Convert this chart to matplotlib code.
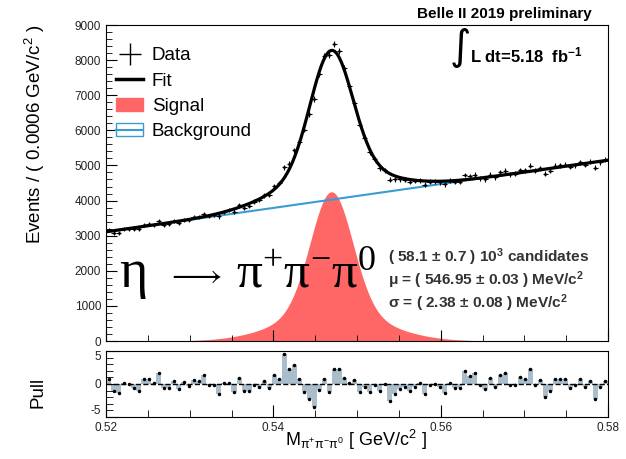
import numpy as np
import matplotlib
matplotlib.use("Agg")
import matplotlib.pyplot as plt
from matplotlib.patches import Patch
from matplotlib.lines import Line2D

plt.rcParams['font.family'] = ['Liberation Sans', 'DejaVu Sans']
plt.rcParams['mathtext.default'] = 'regular'
plt.rcParams['axes.unicode_minus'] = False

#  Fit-Parameter
x_lo, x_hi = 0.52, 0.58
bin_w = 0.0006
mu = 0.54695
sig_core = 0.0025
sig_wide = 0.0060
sig_peak = 4250
frac_wide = 0.2
bg_lo, bg_hi = 3110, 5150

#  Ereignisse pro Bin (100 Bins a 0.6 MeV)
data = [
    3159, 3085, 3082, 3187, 3202, 3188, 3180, 3304, 3325, 3311,
    3419, 3313, 3335, 3415, 3367, 3455, 3444, 3522, 3537, 3619,
    3565, 3597, 3547, 3681, 3728, 3686, 3862, 3796, 3851, 3968,
    4016, 4149, 4167, 4401, 4504, 4951, 5047, 5427, 5678, 6017,
    6466, 6891, 7597, 8111, 8141, 8463, 8268, 7786, 7263, 6791,
    6158, 5790, 5379, 5182, 4922, 4863, 4589, 4601, 4610, 4598,
    4525, 4554, 4573, 4455, 4537, 4548, 4516, 4459, 4567, 4529,
    4540, 4729, 4689, 4732, 4634, 4610, 4738, 4668, 4804, 4844,
    4747, 4767, 4870, 4862, 4994, 4847, 4917, 4762, 4845, 4985,
    5006, 5026, 4955, 5010, 5087, 5023, 5107, 4935, 5091, 5168,
]

#  Pulls pro Bin
pulls = [
    0.7, -1.0, -1.4, 0.1, 0.0, -0.6, -1.1, 0.7, 0.7, 0.1,
    1.6, -0.6, -0.6, 0.4, -0.8, 0.3, -0.3, 0.6, 0.4, 1.3,
    -0.1, -0.1, -1.5, 0.1, 0.2, -1.2, 0.9, -1.0, -1.0, -0.1,
    -0.4, 0.5, -0.6, 1.3, 0.7, 4.5, 2.2, 2.9, 0.7, -1.2,
    -2.2, -3.5, -0.9, 0.7, -1.2, 2.3, 2.3, 0.9, 0.2, 0.6,
    -1.2, -0.4, -1.2, -0.2, -1.1, 0.0, -2.6, -1.5, -0.7, -0.4,
    -1.1, -0.4, 0.1, -1.5, -0.2, 0.0, -0.5, -1.4, 0.1, -0.6,
    -0.6, 2.0, 1.2, 1.6, -0.1, -0.7, 0.9, -0.4, 1.3, 1.6,
    -0.1, -0.1, 1.1, 0.7, 2.3, -0.1, 0.6, -1.9, -1.0, 0.7,
    0.7, 0.7, -0.6, -0.1, 0.7, -0.5, 0.4, -2.3, -0.4, 0.4,
]

pull_ticklabels = ["0.52", "0.54", "0.56", "0.58"]
stats_lines = [
    "( 58.1 ± 0.7 ) 10$^{3}$ candidates",
    "μ = ( 546.95 ± 0.03 ) MeV/c$^{2}$",
    "σ = ( 2.38 ± 0.08 ) MeV/c$^{2}$",
]

red = "#ff6666"
blue = "#3a9bd5"
pull_col = "#aabdcb"


def signal(x):
    return sig_peak * ((1 - frac_wide) * np.exp(-0.5 * ((x - mu) / sig_core) ** 2)
                       + frac_wide * np.exp(-0.5 * ((x - mu) / sig_wide) ** 2))


def background(x):
    return bg_lo + (bg_hi - bg_lo) * (x - x_lo) / (x_hi - x_lo)


data = np.array(data, dtype=float)
pulls = np.array(pulls)
centers = x_lo + bin_w * (np.arange(len(data)) + 0.5)
xf = np.linspace(x_lo, x_hi, 800)

W, H = 626, 459
fig = plt.figure(figsize=(W / 100, H / 100), dpi=100)
ax = fig.add_axes([106 / W, 1 - 341 / H, 502 / W, 316 / H])
axp = fig.add_axes([106 / W, 1 - 417 / H, 502 / W, 66 / H])

# Hauptplot
ax.fill_between(xf, 0, signal(xf), color=red, lw=0)
ax.plot(xf, background(xf), color=blue, lw=1.5)
ax.plot(xf, signal(xf) + background(xf), color="k", lw=2.3)
ax.errorbar(centers, data, xerr=bin_w / 2, yerr=np.sqrt(data), fmt=".", color="k",
            ms=2, elinewidth=0.8, capsize=0)
ax.set_xlim(x_lo, x_hi)
ax.set_ylim(0, 9000)
ax.set_yticks(np.arange(0, 9001, 1000))
ax.set_yticks(np.arange(0, 9001, 200), minor=True)
ax.set_xticks(np.arange(0.52, 0.5801, 0.02))
ax.set_xticks(np.arange(0.52, 0.5801, 0.005), minor=True)
ax.tick_params(which="both", direction="in", labelsize=8.5, labelcolor="#222222")
ax.tick_params(which="major", length=8)
ax.tick_params(which="minor", length=4)
ax.tick_params(axis="x", labelbottom=False)

handles = [
    Line2D([], [], color="k", marker="+", ms=16, mew=1, ls="none"),
    Line2D([], [], color="k", lw=2.5),
    Patch(facecolor=red, edgecolor=red),
    (Patch(facecolor="white", edgecolor=blue), Line2D([], [], color=blue, lw=1.5)),
]
ax.legend(handles, ["Data", "Fit", "Signal", "Background"], loc="upper left",
          bbox_to_anchor=(116 / W, 1 - 47 / H), bbox_transform=fig.transFigure,
          frameon=False, fontsize=13.5, handlelength=1.45, handletextpad=0.45,
          labelspacing=0.44, borderpad=0, borderaxespad=0)

# Pull-Plot
axp.bar(centers, pulls, width=bin_w, color=pull_col, lw=0)
axp.axhline(0, color="k", ls="--", lw=1)
axp.plot(centers, pulls, "k.", ms=3)
axp.set_xlim(x_lo, x_hi)
axp.set_ylim(-5, 5)
axp.set_yticks([-5, 0, 5])
axp.set_yticks(np.arange(-5, 6, 1), minor=True)
axp.set_xticks(np.arange(0.52, 0.5801, 0.02))
axp.set_xticks(np.arange(0.52, 0.5801, 0.005), minor=True)
axp.set_xticklabels(pull_ticklabels)
axp.tick_params(which="both", direction="in", labelsize=8.5, labelcolor="#222222")
axp.tick_params(which="major", length=9)
axp.tick_params(which="minor", length=5)
ylabs = axp.get_yticklabels()
ylabs[0].set_va("bottom")
ylabs[2].set_va("top")

# Texte
fig.text(35 / W, 1 - 25 / H, "Events / ( 0.0006 GeV/c$^{2}$ )", rotation=90,
         ha="center", va="top", fontsize=13.5)
fig.text(38 / W, 1 - 392 / H, "Pull", rotation=90, ha="center", va="center", fontsize=13.5)
fig.text(356 / W, 1 - 440 / H, r"M$_{\pi^{+}\pi^{-}\pi^{0}}$ [ GeV/c$^{2}$ ]",
         ha="center", va="center", fontsize=13)
fig.text(592 / W, 1 - 14 / H, "Belle II 2019 preliminary", ha="right", va="center",
         fontsize=11, fontweight="bold")
fig.text(460 / W, 1 - 48 / H, r"$\int$", ha="center", va="center", fontsize=21)
fig.text(470 / W, 1 - 55 / H, "L dt=5.18  fb$^{-1}$", ha="left", va="center",
         fontsize=12, fontweight="bold")

# eta -> pi+ pi- pi0
serif = ["Liberation Serif", "DejaVu Serif"]
fig.text(119 / W, 1 - 287 / H, "η", ha="left", va="baseline", fontsize=39, family=serif)
fig.text(193 / W, 1 - 276 / H, r"$\longrightarrow$", ha="center", va="center",
         fontsize=23)
fig.text(236 / W, 1 - 287 / H, "π$^{+}$π$^{-}$π$^{0}$", ha="left", va="baseline",
         fontsize=37, family=serif)

for i, line in enumerate(stats_lines):
    fig.text(388 / W, 1 - (257 + 23 * i) / H, line, ha="left", va="center",
             fontsize=11.1, fontweight="bold", color="#333333")

fig.savefig("out.png", dpi=100)
